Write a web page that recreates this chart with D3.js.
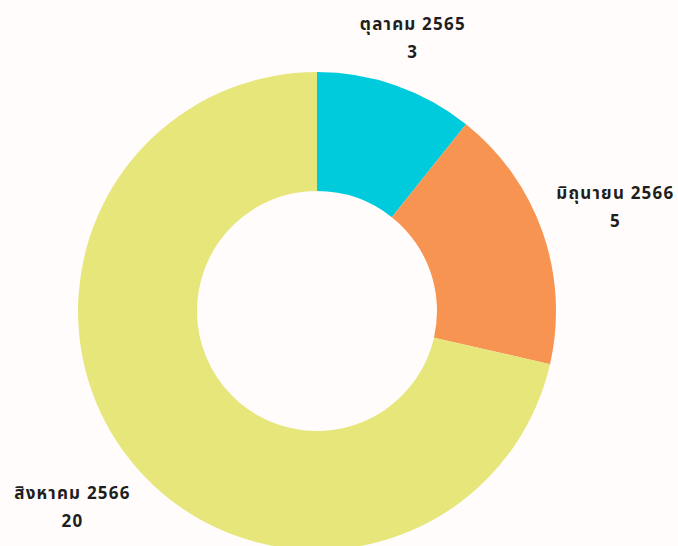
<!DOCTYPE html>
<html><head><meta charset="utf-8">
<script src="https://cdn.jsdelivr.net/npm/d3@7"></script>
<style>
html,body{margin:0;padding:0;background:#fffcfb;}
svg{display:block;}
text{font-family:"Noto Sans","Noto Sans Thai",sans-serif;font-weight:bold;font-size:17px;letter-spacing:1.2px;fill:#1e1e1e;}
</style></head>
<body>
<svg id="c" width="678" height="546"></svg>
<script>
const categories = ["ตุลาคม 2565", "มิถุนายน 2566", "สิงหาคม 2566"];
const values = [3, 5, 20];
const colors = ["#00cbdc", "#f79452", "#e6e67b"];

const W = 678, H = 546;
const cx = 317, cy = 311, R = 239, r0 = 120, pad = 13, lineH = 28;
const svg = d3.select("#c");
const g = svg.append("g").attr("transform", `translate(${cx},${cy})`);

const data = categories.map((c, i) => ({cat: c, val: values[i], col: colors[i]}));
const pie = d3.pie().value(d => d.val).sort(null);
const arc = d3.arc().innerRadius(r0).outerRadius(R);
const arcs = pie(data);

g.selectAll("path").data(arcs).join("path")
  .attr("d", arc).attr("fill", d => d.data.col);

function boxDist(x, y, w, h) {
  const dx = Math.max(Math.abs(x) - w / 2, 0);
  const dy = Math.max(Math.abs(y) - h / 2, 0);
  return Math.hypot(dx, dy);
}

arcs.forEach(a => {
  const mid = (a.startAngle + a.endAngle) / 2;
  const lg = g.append("g");
  lg.append("text").attr("text-anchor", "middle").attr("y", 0).text(a.data.cat);
  lg.append("text").attr("text-anchor", "middle").attr("y", lineH).text(a.data.val);
  const bb = lg.node().getBBox();
  const s = Math.sin(mid), c = -Math.cos(mid);
  let lo = 0, hi = 1000;
  for (let k = 0; k < 60; k++) {
    const t = (lo + hi) / 2;
    if (boxDist(t * s, t * c, bb.width, bb.height) < R + pad) lo = t; else hi = t;
  }
  const t = (lo + hi) / 2;
  const tx = t * s - (bb.x + bb.width / 2);
  const ty = t * c - (bb.y + bb.height / 2);
  lg.attr("transform", `translate(${tx},${ty})`);
});
</script>
</body></html>
